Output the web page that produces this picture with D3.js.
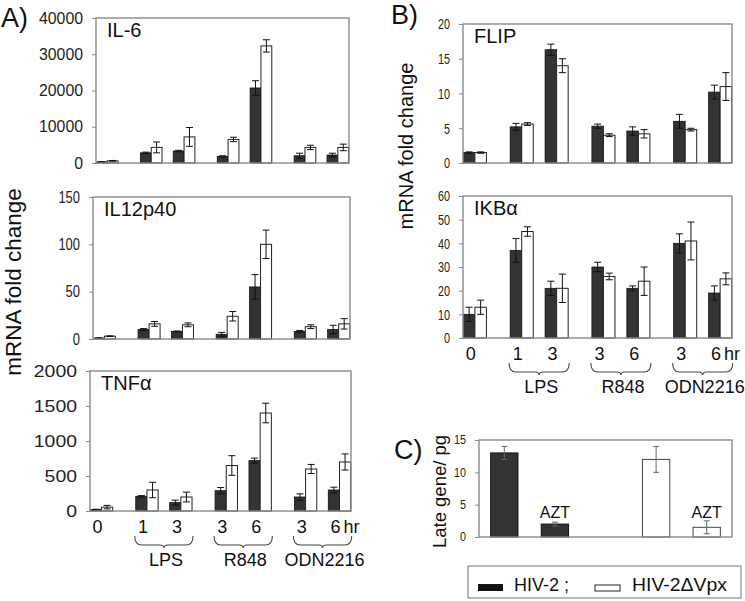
<!DOCTYPE html>
<html>
<head>
<meta charset="utf-8">
<script src="https://cdn.jsdelivr.net/npm/d3@7"></script>
<style>
  body { margin: 0; background: #fff; }
  svg { font-family: "Liberation Sans", Arial, sans-serif; display: block; }
</style>
</head>
<body>
<div id="chart"></div>
<script>
// time points (hr) and the treatment each one belongs to
const timeLabels = ['0', '1', '3', '3', '6', '3', '6'];
const timeGroup = [0, 1, 1, 2, 2, 3, 3];
const treatments = ['LPS', 'R848', 'ODN2216'];

// IL-6
const il6Wt = [300, 2800, 3300, 1800, 20700, 2000, 2200];
const il6WtErr = [80, 200, 200, 200, 2000, 700, 500];
const il6Dvpx = [600, 4300, 7200, 6500, 32300, 4300, 4300];
const il6DvpxErr = [100, 1500, 2600, 600, 1700, 600, 900];

// IL12p40
const il12Wt = [1, 10, 8, 5, 55, 8, 10];
const il12WtErr = [0.3, 1, 0.5, 2, 13, 1, 4.5];
const il12Dvpx = [3, 16, 15, 24, 100, 13, 16];
const il12DvpxErr = [0.3, 2.5, 2, 5, 15, 2, 5.5];

// TNFa
const tnfWt = [20, 210, 120, 290, 720, 200, 300];
const tnfWtErr = [5, 10, 35, 45, 35, 45, 40];
const tnfDvpx = [55, 300, 200, 650, 1400, 600, 700];
const tnfDvpxErr = [25, 110, 70, 140, 140, 65, 115];

// FLIP
const flipWt = [1.5, 5.2, 16.3, 5.3, 4.6, 6.0, 10.2];
const flipWtErr = [0.1, 0.5, 0.8, 0.3, 0.6, 1.0, 1.0];
const flipDvpx = [1.5, 5.6, 14.0, 4.0, 4.2, 4.8, 11.0];
const flipDvpxErr = [0.1, 0.2, 1.0, 0.2, 0.6, 0.2, 2.0];

// IKBa
const ikbWt = [10, 37, 21, 30, 21, 40, 19];
const ikbWtErr = [3, 5, 3, 2, 1, 4, 3];
const ikbDvpx = [13, 45, 21, 26, 24, 41, 25];
const ikbDvpxErr = [3, 2, 6, 1.4, 6, 8, 2.5];

// panel C: late gene / pg
const lateCats = ['HIV-2', 'HIV-2 AZT', '', 'HIV-2dVpx', 'HIV-2dVpx AZT'];
const lateVals = [13, 2, null, 12, 1.5];
const lateErr = [1, 0.3, null, 2, 1];
const lateVirus = ['wt', 'wt', null, 'dvpx', 'dvpx'];
const lateNote = ['', 'AZT', '', '', 'AZT'];

const legendLabels = ['HIV-2 ;', 'HIV-2\u0394Vpx'];

const W = 745, H = 601;
const DARK = '#333333';
const FRAME = '#8a8a8a';

const svg = d3.select('#chart').append('svg')
    .attr('width', W)
    .attr('height', H);

const panels = [
    { name: 'IL-6', wt: il6Wt, wtErr: il6WtErr, dv: il6Dvpx, dvErr: il6DvpxErr,
      max: 40000, ticks: [0, 10000, 20000, 30000, 40000],
      box: [96, 18, 349, 163], tickFont: 16, digitW: 8.8 },
    { name: 'IL12p40', wt: il12Wt, wtErr: il12WtErr, dv: il12Dvpx, dvErr: il12DvpxErr,
      max: 150, ticks: [0, 50, 100, 150],
      box: [93, 197, 350, 339], tickFont: 16, digitW: 7.2 },
    { name: 'TNF\u03b1', wt: tnfWt, wtErr: tnfWtErr, dv: tnfDvpx, dvErr: tnfDvpxErr,
      max: 2000, ticks: [0, 500, 1000, 1500, 2000],
      box: [90, 371, 351, 511], tickFont: 16, digitW: 10.8, xAxis: true },
    { name: 'FLIP', wt: flipWt, wtErr: flipWtErr, dv: flipDvpx, dvErr: flipDvpxErr,
      max: 20, ticks: [0, 5, 10, 15, 20],
      box: [463, 24, 732, 163], tickFont: 15, digitW: 6 },
    { name: 'IKB\u03b1', wt: ikbWt, wtErr: ikbWtErr, dv: ikbDvpx, dvErr: ikbDvpxErr,
      max: 60, ticks: [0, 10, 20, 30, 40, 50, 60],
      box: [463, 196, 732, 338], tickFont: 15, digitW: 6, xAxis: true }
];

const GAP = 0.34;   // extra space between treatment groups, in slots
const EDGE = 0.34;  // space between frame and first/last group

function drawYAxis(g, y, p, left) {
    const axis = d3.axisLeft(y).tickValues(p.ticks).tickFormat(d3.format('d'))
        .tickSize(4).tickPadding(9);
    const ax = g.append('g').attr('transform', `translate(${left},0)`).call(axis);
    ax.select('.domain').remove();
    ax.selectAll('.tick line').attr('stroke', FRAME);
    ax.selectAll('.tick text')
        .attr('fill', '#222')
        .style('font-size', p.tickFont + 'px')
        .attr('textLength', d => String(d).length * p.digitW)
        .attr('lengthAdjust', 'spacingAndGlyphs');
}

function drawErr(g, data, xf, y, cap, color) {
    const eb = g.append('g').attr('stroke', color).attr('stroke-width', 1);
    data.forEach(d => {
        const cx = xf(d);
        const lo = y(Math.max(0, d.v - d.e)), hi = y(d.v + d.e);
        eb.append('line').attr('x1', cx).attr('x2', cx).attr('y1', lo).attr('y2', hi);
        eb.append('line').attr('x1', cx - cap).attr('x2', cx + cap).attr('y1', hi).attr('y2', hi);
        eb.append('line').attr('x1', cx - cap).attr('x2', cx + cap).attr('y1', lo).attr('y2', lo);
    });
}

function bracePath(x1, x2, y0) {
    const mid = (x1 + x2) / 2, h = 9, r = 7;
    return `M${x1},${y0} Q${x1},${y0 + h} ${x1 + r},${y0 + h} L${mid - 4},${y0 + h} ` +
        `Q${mid},${y0 + h} ${mid},${y0 + h + 3} Q${mid},${y0 + h} ${mid + 4},${y0 + h} ` +
        `L${x2 - r},${y0 + h} Q${x2},${y0 + h} ${x2},${y0}`;
}

function drawPanel(p) {
    const [left, top, right, bottom] = p.box;
    const g = svg.append('g');
    const n = timeLabels.length;
    const nGaps = treatments.length;

    const slot = d3.scaleLinear()
        .domain([-EDGE, n - 1 + nGaps * GAP + EDGE])
        .range([left, right]);
    const xc = i => slot(i + timeGroup[i] * GAP);
    const unit = slot(1) - slot(0);
    const bw = unit * 0.33;

    const y = d3.scaleLinear().domain([0, p.max]).range([bottom, top]);

    drawYAxis(g, y, p, left);

    const wt = p.wt.map((v, i) => ({ i, v, e: p.wtErr[i] }));
    const dv = p.dv.map((v, i) => ({ i, v, e: p.dvErr[i] }));

    g.append('g').selectAll('rect').data(wt).join('rect')
        .attr('x', d => xc(d.i) - bw)
        .attr('y', d => y(d.v))
        .attr('width', bw)
        .attr('height', d => bottom - y(d.v))
        .attr('fill', DARK)
        .attr('stroke', '#111')
        .attr('stroke-width', 0.8);

    g.append('g').selectAll('rect').data(dv).join('rect')
        .attr('x', d => xc(d.i))
        .attr('y', d => y(d.v))
        .attr('width', bw)
        .attr('height', d => bottom - y(d.v))
        .attr('fill', '#fff')
        .attr('stroke', '#222')
        .attr('stroke-width', 1);

    drawErr(g, wt, d => xc(d.i) - bw / 2, y, 3.5, '#111');
    drawErr(g, dv, d => xc(d.i) + bw / 2, y, 3.5, '#111');

    g.append('rect')
        .attr('x', left).attr('y', top)
        .attr('width', right - left).attr('height', bottom - top)
        .attr('fill', 'none')
        .attr('stroke', FRAME)
        .attr('stroke-width', 1.4);

    g.append('text')
        .attr('x', left + 11).attr('y', top + 19)
        .style('font-size', '20px')
        .attr('fill', '#111')
        .text(p.name);

    if (!p.xAxis) return;

    const labY = bottom + 22;
    timeLabels.forEach((t, i) => {
        const lx = xc(i) - bw * 0.35;
        g.append('text')
            .attr('x', lx).attr('y', labY)
            .attr('text-anchor', 'middle')
            .style('font-size', '18px')
            .attr('fill', '#111')
            .text(t);
        if (i === n - 1) {
            g.append('text')
                .attr('x', lx + 8).attr('y', labY)
                .style('font-size', '18px')
                .attr('fill', '#111')
                .text('hr');
        }
    });

    treatments.forEach((t, k) => {
        const idx = timeGroup.map((gi, i) => gi === k + 1 ? i : -1).filter(i => i >= 0);
        const mid = (xc(idx[0]) + xc(idx[idx.length - 1])) / 2;
        const half = unit * 0.86;
        g.append('path')
            .attr('d', bracePath(mid - half, mid + half, labY + 3))
            .attr('fill', 'none')
            .attr('stroke', '#444')
            .attr('stroke-width', 1.1);
        g.append('text')
            .attr('x', mid + 2).attr('y', labY + 33)
            .attr('text-anchor', 'middle')
            .style('font-size', '18px')
            .attr('fill', '#111')
            .text(t);
    });
}

panels.forEach(drawPanel);

// panel C
(function drawLate() {
    const left = 479, top = 440, right = 732, bottom = 537;
    const g = svg.append('g');
    const x = d3.scaleBand().domain(lateCats.map((c, i) => i)).range([left, right]).paddingInner(0.46).paddingOuter(0.23);
    const y = d3.scaleLinear().domain([0, 15]).range([bottom, top]);

    drawYAxis(g, y, { ticks: [0, 5, 10, 15], tickFont: 12, digitW: 6 }, left);

    const data = lateVals.map((v, i) => ({ i, v, e: lateErr[i], virus: lateVirus[i], note: lateNote[i] }))
        .filter(d => d.v !== null);

    g.append('g').selectAll('rect').data(data).join('rect')
        .attr('x', d => x(d.i))
        .attr('y', d => y(d.v))
        .attr('width', x.bandwidth())
        .attr('height', d => bottom - y(d.v))
        .attr('fill', d => d.virus === 'wt' ? DARK : '#fff')
        .attr('stroke', d => d.virus === 'wt' ? '#111' : '#444')
        .attr('stroke-width', 1);

    drawErr(g, data, d => x(d.i) + x.bandwidth() / 2, y, 3, '#666');

    g.append('g').selectAll('text').data(data.filter(d => d.note)).join('text')
        .attr('x', d => x(d.i) + x.bandwidth() / 2)
        .attr('y', y(2.9))
        .attr('text-anchor', 'middle')
        .style('font-size', '16px')
        .attr('fill', '#111')
        .text(d => d.note);

    g.append('rect')
        .attr('x', left).attr('y', top)
        .attr('width', right - left).attr('height', bottom - top)
        .attr('fill', 'none')
        .attr('stroke', FRAME)
        .attr('stroke-width', 1.4);

    g.append('text')
        .attr('transform', `translate(446,${(top + bottom) / 2 + 3}) rotate(-90)`)
        .attr('text-anchor', 'middle')
        .style('font-size', '18.5px')
        .attr('fill', '#111')
        .text('Late gene/ pg');
})();

// legend
const leg = svg.append('g');
leg.append('rect')
    .attr('x', 468).attr('y', 566).attr('width', 273).attr('height', 32)
    .attr('fill', '#fff').attr('stroke', FRAME).attr('stroke-width', 1.2);
leg.append('rect').attr('x', 478).attr('y', 584).attr('width', 25).attr('height', 7).attr('fill', '#111');
leg.append('text').attr('x', 514).attr('y', 591).style('font-size', '18px').attr('fill', '#111').text(legendLabels[0]);
leg.append('rect').attr('x', 595).attr('y', 585).attr('width', 25).attr('height', 6)
    .attr('fill', '#fff').attr('stroke', '#222').attr('stroke-width', 1);
leg.append('text').attr('x', 632).attr('y', 591).style('font-size', '18px').attr('fill', '#111')
    .attr('textLength', 95).attr('lengthAdjust', 'spacingAndGlyphs').text(legendLabels[1]);

// panel letters and shared y labels
const letter = (t, x, y) => svg.append('text').attr('x', x).attr('y', y)
    .style('font-size', '27px').attr('fill', '#111').text(t);
letter('A)', 1, 27);
letter('B)', 391, 24);
letter('C)', 394, 459);

svg.append('text')
    .attr('transform', 'translate(21,282) rotate(-90)')
    .attr('text-anchor', 'middle')
    .style('font-size', '22.5px')
    .attr('fill', '#111')
    .text('mRNA fold change');

svg.append('text')
    .attr('transform', 'translate(413,146) rotate(-90)')
    .attr('text-anchor', 'middle')
    .style('font-size', '20px')
    .attr('fill', '#111')
    .text('mRNA fold change');
</script>
</body>
</html>
